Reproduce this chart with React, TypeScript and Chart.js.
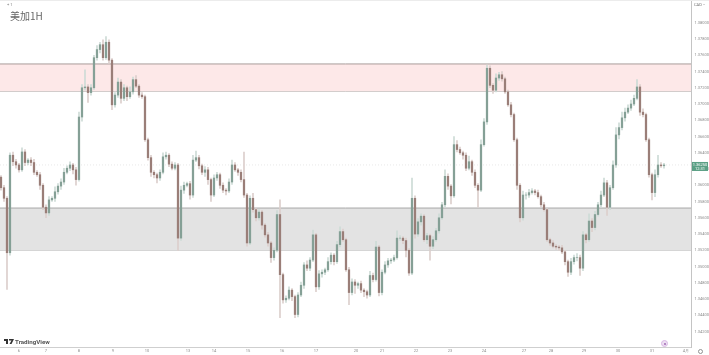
import React, { useEffect, useRef } from "react";
import { Chart, registerables } from "chart.js";

Chart.register(...registerables);

const firstOpen = 1.3610;
const closes = [
  1.3597,1.3584,1.3517,1.3637,1.3629,1.3625,1.3619,1.3641,1.3628,1.3631,
  1.3628,1.3616,1.3613,1.3600,1.3573,1.3566,1.3582,1.3584,1.3592,1.3599,
  1.3604,1.3616,1.3621,1.3625,1.3619,1.3607,1.3684,1.3720,1.3721,1.3714,
  1.3720,1.3757,1.3767,1.3773,1.3757,1.3776,1.3754,1.3699,1.3711,1.3727,
  1.3707,1.3720,1.3709,1.3715,1.3730,1.3722,1.3711,1.3709,1.3656,1.3634,
  1.3616,1.3613,1.3609,1.3616,1.3635,1.3637,1.3626,1.3621,1.3625,1.3535,
  1.3594,1.3600,1.3602,1.3588,1.3631,1.3634,1.3624,1.3616,1.3619,1.3607,
  1.3588,1.3609,1.3613,1.3600,1.3594,1.3593,1.3604,1.3625,1.3619,1.3616,
  1.3607,1.3588,1.3529,1.3584,1.3570,1.3560,1.3567,1.3551,1.3539,1.3529,
  1.3511,1.3520,1.3564,1.3490,1.3459,1.3461,1.3471,1.3463,1.3441,1.3465,
  1.3477,1.3502,1.3498,1.3508,1.3539,1.3475,1.3491,1.3493,1.3496,1.3506,
  1.3514,1.3506,1.3527,1.3543,1.3533,1.3496,1.3468,1.3481,1.3477,1.3479,
  1.3471,1.3469,1.3465,1.3489,1.3484,1.3524,1.3468,1.3493,1.3502,1.3507,
  1.3508,1.3511,1.3535,1.3535,1.3532,1.3520,1.3492,1.3584,1.3540,1.3555,
  1.3562,1.3533,1.3538,1.3525,1.3533,1.3544,1.3560,1.3576,1.3611,1.3599,
  1.3587,1.3650,1.3644,1.3640,1.3637,1.3621,1.3629,1.3616,1.3600,1.3594,
  1.3650,1.3678,1.3744,1.3723,1.3717,1.3732,1.3736,1.3731,1.3715,1.3699,
  1.3687,1.3656,1.3600,1.3560,1.3588,1.3588,1.3591,1.3593,1.3591,1.3586,
  1.3576,1.3570,1.3533,1.3529,1.3525,1.3524,1.3523,1.3518,1.3506,1.3493,
  1.3506,1.3511,1.3511,1.3498,1.3539,1.3533,1.3556,1.3548,1.3564,1.3576,
  1.3588,1.3603,1.3573,1.3597,1.3625,1.3662,1.3671,1.3683,1.3690,1.3695,
  1.3700,1.3707,1.3721,1.3690,1.3687,1.3656,1.3613,1.3591,1.3613,1.3625,
  1.3624,1.3625,
];
// wick lengths in pips above / below the candle body
const wickUp = [
  2,3,2,3,4,3,2,5,3,2, 3,4,2,3,2,3,4,2,6,3, 4,5,3,4,2,3,6,4,21,3, 4,3,5,3,6,7,3,2,3,5,
  3,4,2,6,3,5,2,3,2,2, 3,2,2,3,5,4,2,3,3,2, 5,4,2,3,6,8,3,2,4,3, 2,4,3,2,3,2,4,6,3,2,
  3,34,2,3,6,2,3,2,2,3, 2,3,5,18,2,3,4,2,2,3, 4,3,5,3,6,2,4,3,2,5, 3,2,4,6,3,2,3,4,3,2,
  3,2,2,5,3,7,2,3,4,3, 2,3,9,3,2,3,2,25,3,4, 3,2,3,2,4,3,5,3,8,3, 2,10,5,3,2,3,7,2,3,2,
  6,4,4,3,2,5,3,4,2,2, 3,2,2,2,5,3,4,3,2,3, 2,3,2,2,3,2,2,3,2,2, 4,3,5,3,4,2,9,3,4,3,
  5,6,3,3,5,9,6,7,5,4, 5,4,9,3,4,2,2,2,6,12, 3,2,
];
const wickDown = [
  3,4,45,3,5,4,3,2,4,3, 4,3,2,5,3,6,3,2,4,3, 4,3,2,3,5,7,2,5,3,12, 3,2,3,4,3,2,4,6,3,3,
  6,3,5,2,3,2,3,2,2,3, 5,4,6,3,2,3,3,2,2,15, 3,4,2,5,3,2,4,3,5,6, 8,2,3,4,3,5,2,3,2,4,
  3,3,4,2,3,4,3,5,3,4, 6,3,2,53,4,3,2,5,4,3, 2,4,3,3,2,6,3,4,3,2, 3,4,2,3,2,2,15,3,10,4,
  3,6,4,2,3,2,4,3,2,3, 3,2,2,3,4,8,3,2,5,3, 4,2,5,17,3,2,3,2,3,4, 10,2,3,2,5,3,2,4,3,21,
  2,2,3,3,4,2,3,3,2,2, 3,2,5,5,3,5,3,2,3,2, 3,2,2,3,2,3,3,2,4,5, 3,3,4,9,3,4,2,5,3,2,
  3,2,10,3,2,3,5,3,4,2, 3,2,2,4,3,2,3,9,5,3, 2,3,
];

const priceTicks = [1.38,1.378,1.376,1.374,1.372,1.37,1.368,1.366,1.364,1.362,1.36,1.358,1.356,1.354,1.352,1.35,1.348,1.346,1.344,1.342];
const dateTicks = [6,15,26,37.3,48.7,62.3,71,82.3,93.7,105,118.3,127,138.3,149.7,161,174.3,183.3,194.3,205.7,217,228.3];
const dateLabels = ["6","7","8","9","10","13","14","15","16","17","20","21","22","23","24","27","28","29","30","31","4月"];

const resistanceZone = [1.37493, 1.3716];
const supportZone = [1.3572, 1.35205];
const lastPrice = 1.3625;
const lastPriceLabel = ["1.36250", "12:31"];

const X_MIN = -0.33;
const X_MAX = 230;
const Y_MIN = 1.3401;
const Y_MAX = 1.3828;

const UP = "#85a096";
const DOWN = "#9a7e78";
const UP_WICK = "#cddbd6";
const DOWN_WICK = "#dccfcc";

const hline = (y: number, color: string, extra: any = {}) => ({
  type: "line" as const,
  data: [{ x: X_MIN, y }, { x: X_MAX, y }],
  borderColor: color,
  borderWidth: 1,
  pointRadius: 0,
  order: 5,
  ...extra,
});

const tagPlugin = {
  id: "lastPriceTag",
  afterDraw(chart: any) {
    const { ctx, scales } = chart;
    const y = scales.y.getPixelForValue(lastPrice);
    ctx.save();
    ctx.fillStyle = "#5a9f84";
    ctx.fillRect(692, y - 3, 16, 9);
    ctx.fillStyle = "#ffffff";
    ctx.font = "4px Roboto";
    ctx.textAlign = "center";
    ctx.textBaseline = "middle";
    ctx.fillText(lastPriceLabel[0], 700, y - 0.3);
    ctx.fillText(lastPriceLabel[1], 700, y + 3.6);
    ctx.restore();
  },
};

const noPad = (s: any) => {
  s.paddingTop = 0;
  s.paddingBottom = 0;
  s.paddingLeft = 0;
  s.paddingRight = 0;
};

export default function App() {
  const ref = useRef<HTMLCanvasElement>(null);
  useEffect(() => {
    document.body.style.margin = "0";
    const opens = closes.map((_, i) => (i === 0 ? firstOpen : closes[i - 1]));
    const isUp = closes.map((c, i) => c >= opens[i]);
    const pip = 0.0001;
    const wicks = closes.map((c, i) => ({
      x: i,
      y: [Math.min(c, opens[i]) - wickDown[i] * pip, Math.max(c, opens[i]) + wickUp[i] * pip],
    }));
    const bodies = closes.map((c, i) => ({ x: i, y: [opens[i], c] }));
    const chart = new Chart(ref.current!, {
      data: {
        datasets: [
          hline(resistanceZone[0], "#a89c9a", { fill: "+1", backgroundColor: "#fde8e8" }),
          hline(resistanceZone[1], "#a89c9a"),
          hline(supportZone[0], "#a8a8a8", { fill: "+1", backgroundColor: "#e3e3e3" }),
          hline(supportZone[1], "#8f8f8f"),
          hline(lastPrice, "#e8e8e8", { borderDash: [1, 2] }),
          {
            type: "bar" as const,
            data: wicks as any,
            backgroundColor: isUp.map((u) => (u ? UP_WICK : DOWN_WICK)),
            barThickness: 1,
            grouped: false,
            order: 2,
          },
          {
            type: "bar" as const,
            data: bodies as any,
            backgroundColor: isUp.map((u) => (u ? UP : DOWN)),
            barThickness: 1.6,
            grouped: false,
            order: 1,
          },
        ],
      },
      options: {
        animation: false,
        responsive: false,
        events: [],
        layout: { padding: 0 },
        plugins: { legend: { display: false }, tooltip: { enabled: false }, title: { display: false } },
        scales: {
          x: {
            type: "linear",
            min: X_MIN,
            max: X_MAX,
            offset: false,
            grid: { display: false, drawTicks: false },
            border: { display: true, color: "#cfcfcf", width: 1 },
            afterBuildTicks: (s: any) => { s.ticks = dateTicks.map((value) => ({ value })); },
            afterFit: (s: any) => { s.height = 8; noPad(s); },
            ticks: {
              autoSkip: false,
              maxRotation: 0,
              padding: 1.5,
              color: "#8c8c8c",
              font: { size: 4, family: "Roboto" },
              callback: (v: any) => dateLabels[dateTicks.indexOf(v)] ?? "",
            },
          },
          y: {
            position: "right",
            min: Y_MIN,
            max: Y_MAX,
            grid: { display: false, drawTicks: false },
            border: { display: true, color: "#c4c4c4", width: 1 },
            afterBuildTicks: (s: any) => { s.ticks = priceTicks.map((value) => ({ value })); },
            afterFit: (s: any) => { s.width = 18; noPad(s); },
            ticks: {
              autoSkip: false,
              padding: 3.5,
              color: "#8c8c8c",
              font: { size: 4, family: "Roboto" },
              callback: (v: any) => Number(v).toFixed(5),
            },
          },
        },
      },
      plugins: [tagPlugin],
    } as any);
    return () => chart.destroy();
  }, []);

  const abs: React.CSSProperties = { position: "absolute", whiteSpace: "nowrap", lineHeight: 1 };
  return (
    <div style={{ position: "relative", width: 709, height: 355, overflow: "hidden", background: "#fff" }}>
      <canvas ref={ref} width={709} height={355} style={{ display: "block", filter: "blur(0.45px)" }} />
      <div style={{ ...abs, left: 0, right: 0, top: 0, height: 1, background: "#ececec" }} />
      <div style={{ ...abs, left: 7, top: 3, fontSize: 4, color: "#808080", fontFamily: "Roboto" }}>+ 1</div>
      <div style={{ ...abs, left: 10, top: 11, fontSize: 10, color: "#666", fontFamily: "'Noto Sans CJK SC', sans-serif" }}>美加1H</div>
      <div style={{ ...abs, left: 694, top: 3, fontSize: 4, color: "#707070", fontFamily: "Roboto" }}>CAD –</div>
      <svg style={{ position: "absolute", left: 3.5, top: 338.5 }} width="10" height="6" viewBox="0 0 10 6">
        <path d="M0 0H4V5H2V2H0Z M5 0 H10 L7.5 5 H5.5 L7.5 1.5 H5Z" fill="#333" />
      </svg>
      <div style={{ ...abs, left: 15, top: 338.5, fontSize: 6.2, fontWeight: 700, color: "#555", fontFamily: "Roboto" }}>TradingView</div>
      <div style={{ position: "absolute", left: 661, top: 340, width: 5, height: 5, borderRadius: "50%", border: "1px solid #d9b8e4", background: "#eddff2" }} />
      <div style={{ position: "absolute", left: 663.5, top: 342.5, width: 2, height: 2, borderRadius: "50%", background: "#a06ab4" }} />
      <div style={{ ...abs, left: 697.5, top: 349, width: 3, height: 3, borderRadius: "50%", border: "1px solid #909090" }} />
    </div>
  );
}
